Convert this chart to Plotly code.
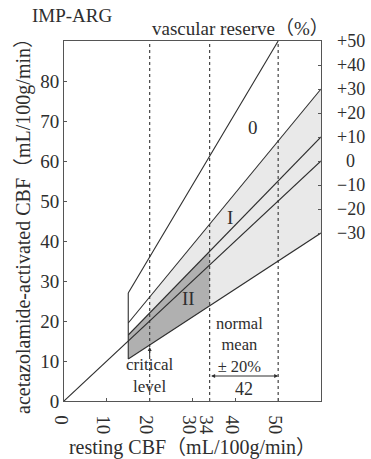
import plotly.graph_objects as go

# ---- data ----
reserve_pct = [80, 30, 10, 0, -30]          # vascular reserve lines (%)
line_x_start = [15, 15, 15, 0, 15]           # resting CBF where each line starts
line_x_end = [50, 60, 60, 60, 60]            # resting CBF where each line ends
region_start = 15                            # left edge of the diagram fan
critical_level = 20
normal_lo, normal_hi, normal_mean = 34, 50, 42
light_band = (30, -30, 20, 60)               # upper %, lower %, x from, x to
dark_band = (10, -30, 15, 34)
x_ticks = [0, 10, 20, 30, 34, 40, 50]
y_ticks = [0, 10, 20, 30, 40, 50, 60, 70, 80]
right_reserve = [50, 40, 30, 20, 10, 0, -10, -20, -30]
right_text = ["+50", "+40", "+30", "+20", "+10", "0", "−10", "−20", "−30"]
right_ref_rest = 60
region_labels = ["0", "I", "II"]
region_x = [44.2, 38.7, 29.0]
region_y = [68.5, 46.0, 25.7]

SERIF = "Liberation Serif, Noto Sans CJK JP"
INK = "#2e2e2e"

def ratio(p):
    return 1 + p / 100.0

fig = go.Figure()

# light shaded band
up, lo, xa, xb = light_band
fig.add_trace(go.Scatter(
    x=[xa, xb, xb, xa, xa],
    y=[xa * ratio(up), xb * ratio(up), xb * ratio(lo), xa * ratio(lo), xa * ratio(up)],
    fill="toself", fillcolor="#e9e9e9", line=dict(width=0), mode="lines",
    hoverinfo="skip", showlegend=False))
# dark shaded band (II)
up, lo, xa, xb = dark_band
fig.add_trace(go.Scatter(
    x=[xa, xb, xb, xa, xa],
    y=[xa * ratio(up), xb * ratio(up), xb * ratio(lo), xa * ratio(lo), xa * ratio(up)],
    fill="toself", fillcolor="#b0b0b0", line=dict(width=0), mode="lines",
    hoverinfo="skip", showlegend=False))

# vertical dotted reference lines
for xv in [critical_level, normal_lo, normal_hi]:
    fig.add_trace(go.Scatter(x=[xv, xv], y=[0, 90], mode="lines",
                             line=dict(color="#444444", width=1.2, dash="dot"),
                             hoverinfo="skip", showlegend=False))

# reserve lines
for p, xs, xe in zip(reserve_pct, line_x_start, line_x_end):
    fig.add_trace(go.Scatter(x=[xs, xe], y=[xs * ratio(p), xe * ratio(p)], mode="lines",
                             line=dict(color=INK, width=1.1),
                             hoverinfo="skip", showlegend=False))

# left vertical boundary of fan
fig.add_trace(go.Scatter(x=[region_start, region_start],
                         y=[region_start * ratio(min(reserve_pct)), region_start * ratio(max(reserve_pct))],
                         mode="lines", line=dict(color=INK, width=1.1),
                         hoverinfo="skip", showlegend=False))

ann = []
for t, xx, yy in zip(region_labels, region_x, region_y):
    ann.append(dict(x=xx, y=yy, text=t, showarrow=False,
                    font=dict(family=SERIF, size=19, color=INK)))

for p, t in zip(right_reserve, right_text):
    ann.append(dict(x=1.115, xref="paper", y=right_ref_rest * ratio(p), yref="y",
                    text=t, showarrow=False, xanchor="center",
                    font=dict(family=SERIF, size=18, color=INK)))

ann.append(dict(x=critical_level, y=6.4, text="critical<br>level", showarrow=False,
                font=dict(family=SERIF, size=17, color=INK)))
ann.append(dict(x=critical_level, y=13.5, ax=critical_level, ay=10.8, axref="x", ayref="y",
                text="", showarrow=True, arrowhead=2, arrowsize=0.8, arrowwidth=1,
                arrowcolor=INK))
ann.append(dict(x=normal_mean - 1, y=14.0, text="normal<br>mean<br>± 20%", showarrow=False,
                font=dict(family=SERIF, size=16.5, color=INK)))
ann.append(dict(x=normal_hi, y=6.25, ax=normal_lo, ay=6.25, axref="x", ayref="y",
                text="", showarrow=True, arrowhead=2, arrowside="end+start",
                arrowsize=0.8, arrowwidth=1, arrowcolor=INK))
ann.append(dict(x=normal_mean, y=3.0, text=str(normal_mean), showarrow=False,
                font=dict(family=SERIF, size=18, color=INK)))

ann.append(dict(x=-0.132, xref="paper", y=1.072, yref="paper", text="IMP-ARG",
                showarrow=False, xanchor="left", yanchor="middle",
                font=dict(family=SERIF, size=19, color=INK)))
ann.append(dict(x=1.04, xref="paper", y=1.036, yref="paper", text="vascular reserve（%）",
                showarrow=False, xanchor="right", yanchor="middle",
                font=dict(family=SERIF, size=19, color=INK)))

fig.update_layout(
    width=371, height=459,
    margin=dict(l=64, r=50, t=41, b=58),
    paper_bgcolor="white", plot_bgcolor="white",
    showlegend=False,
    annotations=ann,
    xaxis=dict(range=[0, 60], tickvals=x_ticks, ticktext=[str(v) for v in x_ticks],
               ticks="inside", ticklen=3, tickcolor="#555555", automargin=False,
               showgrid=False, zeroline=False, showline=True, linecolor="#555555",
               linewidth=1, mirror=True,
               tickfont=dict(family=SERIF, size=19, color=INK),
               title=dict(text="resting CBF（mL/100g/min）", standoff=12,
                          font=dict(family=SERIF, size=20, color=INK))),
    yaxis=dict(range=[0, 90], tickvals=y_ticks, ticks="inside", ticklen=3,
               tickcolor="#555555", showgrid=False, zeroline=False, showline=True,
               linecolor="#555555", linewidth=1, mirror=True, automargin=False,
               tickfont=dict(family=SERIF, size=19, color=INK),
               title=dict(text="acetazolamide-activated CBF（mL/100g/min）", standoff=4,
                          font=dict(family=SERIF, size=20, color=INK))),
    yaxis2=dict(range=[0, 90], overlaying="y", side="right", automargin=False,
                tickvals=[right_ref_rest * ratio(p) for p in right_reserve],
                showticklabels=False, ticks="inside", ticklen=3, tickcolor="#555555",
                showgrid=False, zeroline=False, showline=False),
)
fig.add_trace(go.Scatter(x=[None], y=[None], yaxis="y2", showlegend=False, hoverinfo="skip"))

fig.write_html("out.html")
